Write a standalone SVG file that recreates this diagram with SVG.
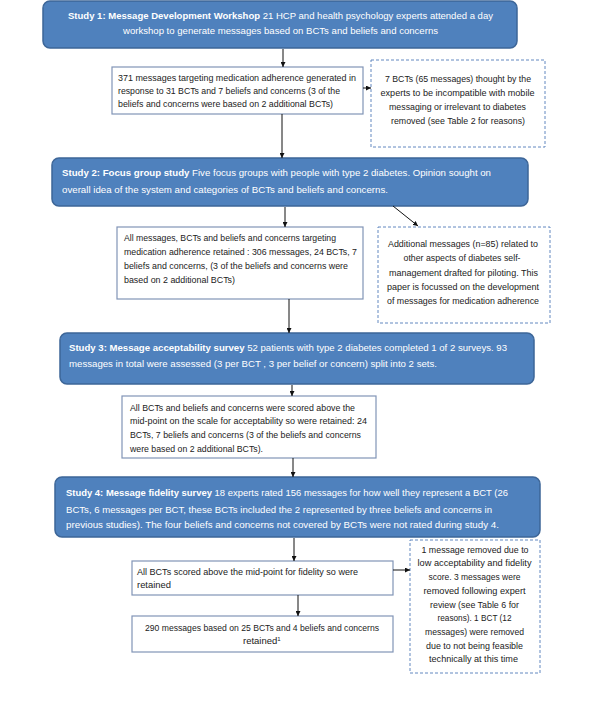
<svg xmlns="http://www.w3.org/2000/svg" width="595" height="714" viewBox="0 0 595 714">
<style>
.study{fill:#4F81BD;stroke:#3D6698;stroke-width:1.5}
.box{fill:#fff;stroke:#8194B6;stroke-width:1.2}
.dash{fill:#fff;stroke:#6388C0;stroke-width:1;stroke-dasharray:3 2}
text{font-family:"Liberation Sans",Arial,sans-serif;font-size:9.5px;fill:#222}
.w{fill:#fff}
.b{font-weight:bold}
.c{text-anchor:middle}
.conn line{stroke:#111;stroke-width:1;marker-end:url(#ah)}
</style>
<defs>
<marker id="ah" viewBox="0 0 8 8" refX="8" refY="4" markerWidth="5" markerHeight="5" orient="auto" markerUnits="userSpaceOnUse">
<path d="M0,0 L8,4 L0,8 z" fill="#111"/>
</marker>
</defs>
<rect width="595" height="714" fill="#fff"/>

<g id="study1">
<rect class="study" x="43" y="1" width="474" height="47" rx="7"/>
<text class="w c" x="280.5" y="18.5" textLength="425" lengthAdjust="spacingAndGlyphs"><tspan class="b w">Study 1: Message Development Workshop</tspan> 21 HCP and health psychology experts attended a day</text>
<text class="w c" x="280.5" y="33.5" textLength="315" lengthAdjust="spacingAndGlyphs">workshop to generate messages based on BCTs and beliefs and concerns</text>
</g>

<g id="box371">
<rect class="box" x="112" y="67" width="251" height="47"/>
<text x="118" y="80.5" textLength="238" lengthAdjust="spacingAndGlyphs">371 messages targeting medication adherence generated in</text>
<text x="118" y="93.5" textLength="222" lengthAdjust="spacingAndGlyphs">response to 31 BCTs and 7 beliefs and concerns (3 of the</text>
<text x="118" y="106.5" textLength="215" lengthAdjust="spacingAndGlyphs">beliefs and concerns were based on 2 additional BCTs)</text>
</g>

<g id="removed1">
<rect class="dash" x="371" y="60" width="174" height="87"/>
<text class="c" x="458" y="81.5" textLength="146" lengthAdjust="spacingAndGlyphs">7 BCTs (65 messages) thought by the</text>
<text class="c" x="457.5" y="95.5" textLength="154" lengthAdjust="spacingAndGlyphs">experts to be incompatible with mobile</text>
<text class="c" x="457.5" y="109.5" textLength="137" lengthAdjust="spacingAndGlyphs">messaging or irrelevant to diabetes</text>
<text class="c" x="458" y="123.5" textLength="134" lengthAdjust="spacingAndGlyphs">removed (see Table 2 for reasons)</text>
</g>

<g id="study2">
<rect class="study" x="52" y="158" width="476" height="48" rx="7"/>
<text class="w" x="62" y="175.5" textLength="429" lengthAdjust="spacingAndGlyphs"><tspan class="b w">Study 2: Focus group study</tspan> Five focus groups with people with type 2 diabetes. Opinion sought on</text>
<text class="w" x="62" y="192.5" textLength="326" lengthAdjust="spacingAndGlyphs">overall idea of the system and categories of BCTs and beliefs and concerns.</text>
</g>

<g id="retained1">
<rect class="box" x="117" y="227" width="246" height="72"/>
<text x="124" y="240.5" textLength="212" lengthAdjust="spacingAndGlyphs">All messages, BCTs and beliefs and concerns targeting</text>
<text x="124" y="254.5" textLength="233" lengthAdjust="spacingAndGlyphs">medication adherence retained : 306 messages,  24 BCTs, 7</text>
<text x="124" y="268.5" textLength="224" lengthAdjust="spacingAndGlyphs">beliefs and concerns, (3 of the beliefs and concerns were</text>
<text x="124" y="282.5" textLength="111" lengthAdjust="spacingAndGlyphs">based on 2 additional BCTs)</text>
</g>

<g id="additional">
<rect class="dash" x="378" y="227" width="172" height="96"/>
<text class="c" x="463" y="246.5" textLength="150" lengthAdjust="spacingAndGlyphs">Additional messages (n=85) related to</text>
<text class="c" x="462" y="260.5" textLength="117" lengthAdjust="spacingAndGlyphs">other aspects of diabetes self-</text>
<text class="c" x="463.5" y="275.5" textLength="149" lengthAdjust="spacingAndGlyphs">management drafted for piloting. This</text>
<text class="c" x="463" y="289.5" textLength="152" lengthAdjust="spacingAndGlyphs">paper is focussed on the development</text>
<text class="c" x="463" y="303.5" textLength="152" lengthAdjust="spacingAndGlyphs">of messages for medication adherence</text>
</g>

<g id="study3">
<rect class="study" x="60" y="333" width="474" height="51" rx="7"/>
<text class="w" x="69" y="350.5" textLength="438" lengthAdjust="spacingAndGlyphs"><tspan class="b w">Study 3: Message acceptability survey</tspan> 52 patients with type 2 diabetes completed 1 of 2 surveys. 93</text>
<text class="w" x="69" y="366.5" textLength="368" lengthAdjust="spacingAndGlyphs">messages in total were assessed (3 per BCT , 3 per belief or concern) split into 2 sets.</text>
</g>

<g id="retained2">
<rect class="box" x="122" y="396" width="254" height="62"/>
<text x="130" y="410.5" textLength="225" lengthAdjust="spacingAndGlyphs">All BCTs and beliefs and concerns were scored above the</text>
<text x="130" y="423.5" textLength="237" lengthAdjust="spacingAndGlyphs">mid-point on the scale for acceptability so were retained: 24</text>
<text x="130" y="437.5" textLength="231" lengthAdjust="spacingAndGlyphs">BCTs, 7 beliefs and concerns (3 of the beliefs and concerns</text>
<text x="130" y="451.5" textLength="133" lengthAdjust="spacingAndGlyphs">were based on 2 additional BCTs).</text>
</g>

<g id="study4">
<rect class="study" x="55" y="477" width="485" height="60" rx="7"/>
<text class="w" x="66" y="495.5" textLength="442" lengthAdjust="spacingAndGlyphs"><tspan class="b w">Study 4: Message fidelity survey</tspan> 18 experts rated 156 messages for how well they represent a BCT (26</text>
<text class="w" x="66" y="512.5" textLength="426" lengthAdjust="spacingAndGlyphs">BCTs, 6 messages per BCT, these BCTs included the 2 represented by three beliefs and concerns in</text>
<text class="w" x="66" y="527.5" textLength="433" lengthAdjust="spacingAndGlyphs">previous studies). The four beliefs and concerns not covered by BCTs were not rated during study 4.</text>
</g>

<g id="fidelity">
<rect class="box" x="132" y="561" width="261" height="34"/>
<text x="137" y="574.5" textLength="221" lengthAdjust="spacingAndGlyphs">All BCTs scored above the mid-point for fidelity so were</text>
<text x="137" y="587.5" textLength="34" lengthAdjust="spacingAndGlyphs">retained</text>
</g>

<g id="final">
<rect class="box" x="132" y="616" width="261" height="36"/>
<text class="c" x="262" y="630.5" textLength="234" lengthAdjust="spacingAndGlyphs">290 messages based on 25 BCTs and 4 beliefs and concerns</text>
<text x="243" y="643.5">retained<tspan font-size="6" dy="-3">1</tspan></text>
</g>

<g id="removed2">
<rect class="dash" x="410" y="540" width="130" height="133"/>
<text class="c" x="475" y="552.5" textLength="107" lengthAdjust="spacingAndGlyphs">1 message removed due to</text>
<text class="c" x="474.5" y="565.5" textLength="114" lengthAdjust="spacingAndGlyphs">low acceptability and fidelity</text>
<text class="c" x="474.5" y="579.5" textLength="92" lengthAdjust="spacingAndGlyphs">score. 3 messages were</text>
<text class="c" x="474.5" y="593.5" textLength="102" lengthAdjust="spacingAndGlyphs">removed following expert</text>
<text class="c" x="474.5" y="607.5" textLength="89" lengthAdjust="spacingAndGlyphs">review (see Table 6 for</text>
<text class="c" x="474.5" y="620.5" textLength="74" lengthAdjust="spacingAndGlyphs">reasons). 1 BCT (12</text>
<text class="c" x="474.5" y="634.5" textLength="99" lengthAdjust="spacingAndGlyphs">messages) were removed</text>
<text class="c" x="474.5" y="648.5" textLength="97" lengthAdjust="spacingAndGlyphs">due to not being feasible</text>
<text class="c" x="473.5" y="661.5" textLength="89" lengthAdjust="spacingAndGlyphs">technically at this time</text>
</g>

<g id="connectors" class="conn">
<line x1="283" y1="49" x2="283" y2="67"/>
<line x1="363" y1="88" x2="371" y2="88"/>
<line x1="282" y1="114" x2="282" y2="158"/>
<line x1="285" y1="207" x2="285" y2="227"/>
<line x1="393" y1="206" x2="418" y2="226"/>
<line x1="289" y1="299" x2="289" y2="333"/>
<line x1="292" y1="385" x2="292" y2="396"/>
<line x1="293" y1="458" x2="293" y2="477"/>
<line x1="294" y1="538" x2="294" y2="561"/>
<line x1="393" y1="570" x2="410" y2="570"/>
<line x1="298" y1="595" x2="298" y2="616"/>
</g>
</svg>
